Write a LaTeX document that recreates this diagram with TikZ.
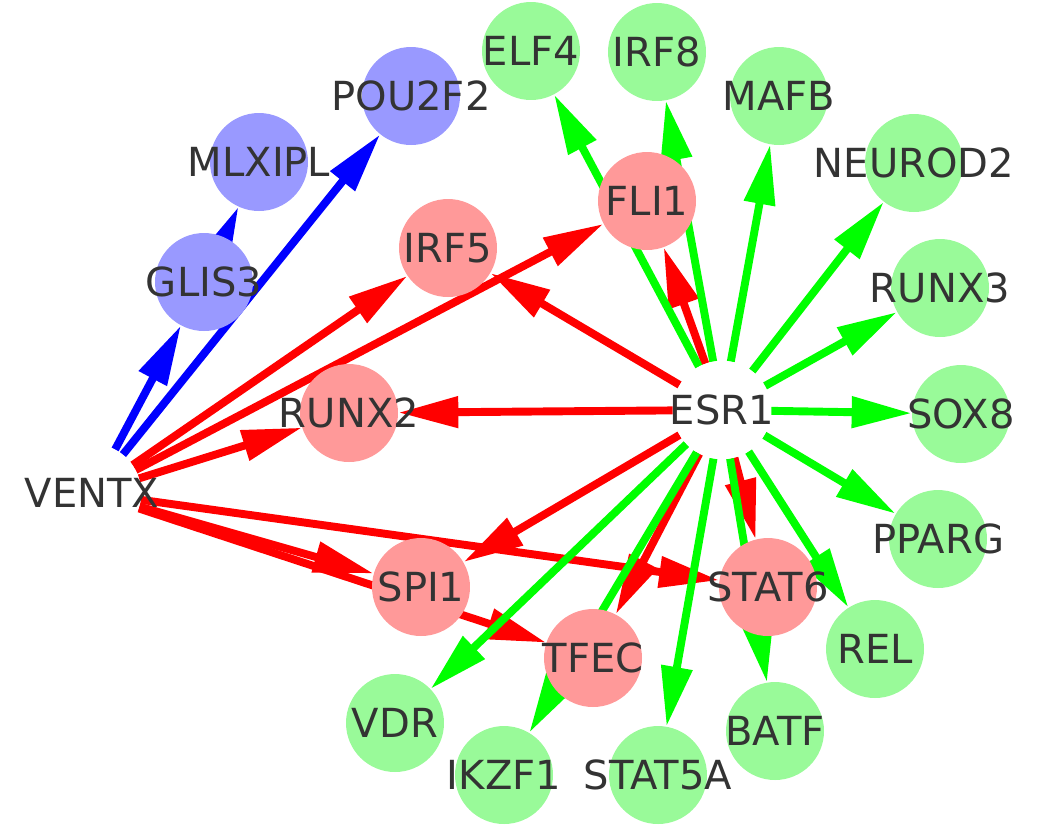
\documentclass[tikz,border=0pt]{standalone}
\usepackage{fontspec}
\setmainfont{DejaVu Sans}
\usetikzlibrary{arrows.meta, backgrounds}
\definecolor{txtgray}{RGB}{51,51,51}
\definecolor{grnfill}{RGB}{153,250,153}
\definecolor{redfill}{RGB}{255,153,153}
\definecolor{blufill}{RGB}{153,153,255}
\definecolor{grnline}{RGB}{0,255,0}
\definecolor{redline}{RGB}{255,0,0}
\definecolor{bluline}{RGB}{0,0,255}

\begin{document}
\begin{tikzpicture}[
    x=0.02cm, y=-0.02cm,
    font=\fontsize{22.8}{26}\selectfont,
    gene/.style={circle, minimum size=1.96cm, inner sep=0pt, text=txtgray, execute at begin node={\hbox to 0pt\bgroup\hss}, execute at end node={\hss\egroup}},
    hub/.style={gene, fill=white},
    tgt/.style={gene, fill=grnfill},
    tf/.style={gene, fill=redfill},
    cof/.style={gene, fill=blufill},
    grnarr/.style={-{Triangle[length=1.2cm, width=0.6cm]}, line width=4.5pt, draw=grnline},
    redarr/.style={-{Triangle[length=1.2cm, width=0.6cm]}, line width=4.5pt, draw=redline},
    bluarr/.style={-{Triangle[length=1.2cm, width=0.6cm]}, line width=4.5pt, draw=bluline}
]
\useasboundingbox (0,0) rectangle (1040,833);

% 1. Hubs
\node[hub] (esr1) at (722,410) {ESR1};
\node[hub] (ventx) at (92,493) {VENTX};

% 2. Green targets round ESR1
\node[tgt] (elf4) at (531,51) {ELF4};
\node[tgt] (irf8) at (657,52) {IRF8};
\node[tgt] (mafb) at (779,96) {MAFB};
\node[tgt] (neurod2) at (914,163) {NEUROD2};
\node[tgt] (runx3) at (940,288) {RUNX3};
\node[tgt] (sox8) at (961,414) {SOX8};
\node[tgt] (pparg) at (938,539) {PPARG};
\node[tgt] (rel) at (875,649) {REL};
\node[tgt] (batf) at (775,731) {BATF};
\node[tgt] (stat5a) at (658,775) {STAT5A};
\node[tgt] (ikzf1) at (504,775) {IKZF1};
\node[tgt] (vdr) at (395,723) {VDR};

% 3. Shared red targets
\node[tf] (fli1) at (647,201) {FLI1};
\node[tf] (irf5) at (448,248) {IRF5};
\node[tf] (runx2) at (349,413) {RUNX2};
\node[tf] (spi1) at (421,587) {SPI1};
\node[tf] (tfec) at (593,658) {TFEC};
\node[tf] (stat6) at (768,587) {STAT6};

% 4. Blue branch
\node[cof] (pou2f2) at (411,96) {POU2F2};
\node[cof] (mlxipl) at (259,162) {MLXIPL};
\node[cof] (glis3) at (204,282) {GLIS3};

\begin{scope}[on background layer]
% -- VENTX --
\draw[bluarr] (ventx) -- (glis3);
\draw[bluarr] (ventx) -- (pou2f2);
\draw[bluarr] (glis3) -- (mlxipl);
\foreach \t in {irf5, fli1, runx2, spi1, tfec, stat6}
    \draw[redarr] (ventx) -- (\t);

% -- ESR1 --
\foreach \t in {fli1, irf5, runx2, spi1, tfec, stat6}
    \draw[redarr] (esr1) -- (\t);
\foreach \t in {elf4, irf8, mafb, neurod2, runx3, sox8, pparg, rel, batf, stat5a, ikzf1, vdr}
    \draw[grnarr] (esr1) -- (\t);
\end{scope}

\end{tikzpicture}
\end{document}
